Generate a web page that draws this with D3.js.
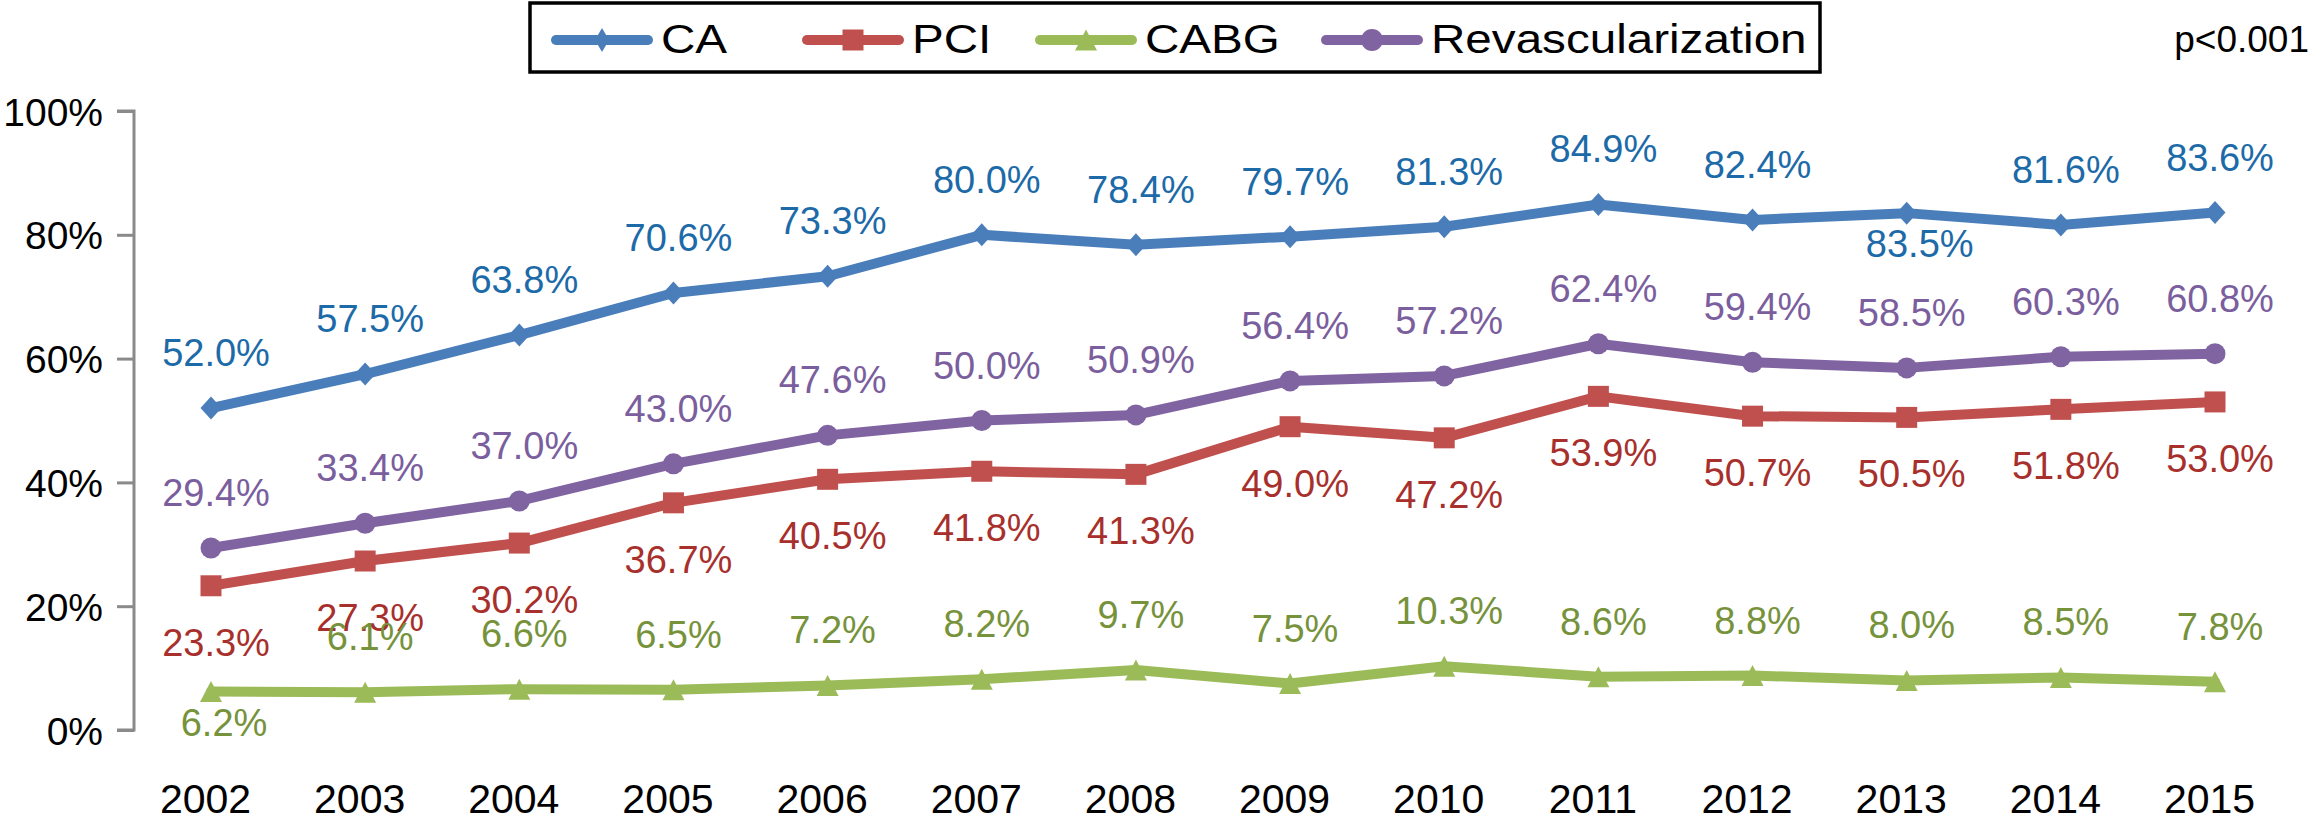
<!DOCTYPE html>
<html>
<head>
<meta charset="utf-8">
<script src="https://cdn.jsdelivr.net/npm/d3@7"></script>
<style>
  html, body { margin: 0; padding: 0; background: #fff; }
  svg { display: block; }
  text { font-family: Arial, "Liberation Sans", Helvetica, sans-serif; }
</style>
</head>
<body>
<svg id="chart" width="2315" height="822"></svg>
<script>
// ---------- data ----------
const years = [2002, 2003, 2004, 2005, 2006, 2007, 2008, 2009, 2010, 2011, 2012, 2013, 2014, 2015];
const seriesNames = ["CA", "PCI", "CABG", "Revascularization"];
const caValues     = [52.0, 57.5, 63.8, 70.6, 73.3, 80.0, 78.4, 79.7, 81.3, 84.9, 82.4, 83.5, 81.6, 83.6];
const pciValues    = [23.3, 27.3, 30.2, 36.7, 40.5, 41.8, 41.3, 49.0, 47.2, 53.9, 50.7, 50.5, 51.8, 53.0];
const cabgValues   = [6.2, 6.1, 6.6, 6.5, 7.2, 8.2, 9.7, 7.5, 10.3, 8.6, 8.8, 8.0, 8.5, 7.8];
const revascValues = [29.4, 33.4, 37.0, 43.0, 47.6, 50.0, 50.9, 56.4, 57.2, 62.4, 59.4, 58.5, 60.3, 60.8];
const yTicks = [0, 20, 40, 60, 80, 100];
const pValueText = "p<0.001";
// label placement (semantic): above / below / under
const caPlacement     = ["above","above","above","above","above","above","above","above","above","above","above","under","above","above"];
const pciPlacement    = years.map(() => "below");
const cabgPlacement   = ["under","above","above","above","above","above","above","above","above","above","above","above","above","above"];
const revascPlacement = years.map(() => "above");

// ---------- styles ----------
const styles = [
  { line: "#4a7ebb", label: "#1d6aa8", marker: "diamond" },
  { line: "#c0504d", label: "#a8302c", marker: "square" },
  { line: "#9bbb59", label: "#76923b", marker: "triangle" },
  { line: "#8064a2", label: "#7a5e9d", marker: "circle" }
];
const seriesValues = [caValues, pciValues, cabgValues, revascValues];
const placements = [caPlacement, pciPlacement, cabgPlacement, revascPlacement];

const svg = d3.select("#chart");

const x = d3.scalePoint().domain(years).range([211, 2215]);
const y = d3.scaleLinear().domain([0, 100]).range([730, 111]);

function markerPath(type, s) {
  if (type === "diamond") return `M0,${-s.h}L${s.w},0L0,${s.h}L${-s.w},0Z`;
  if (type === "square") return `M${-s.w},${-s.w}H${s.w}V${s.w}H${-s.w}Z`;
  if (type === "triangle") return `M0,${-s.h}L${s.w},${s.h}L${-s.w},${s.h}Z`;
  return null;
}
function drawMarker(g, type, cx, cy, color, legend) {
  if (type === "circle") {
    g.append("circle").attr("cx", cx).attr("cy", cy).attr("r", legend ? 11 : 10.5).attr("fill", color);
    return;
  }
  let s;
  if (type === "diamond") s = legend ? { w: 7, h: 12 } : { w: 10.5, h: 11.5 };
  else if (type === "square") s = { w: 10.5 };
  else s = { w: 11, h: 10.5 };
  g.append("path").attr("d", markerPath(type, s))
    .attr("transform", `translate(${cx},${cy})`).attr("fill", color);
}

// ---------- y axis ----------
const yAxis = d3.axisLeft(y).tickValues(yTicks).tickSize(17).tickPadding(14)
  .tickFormat(d => d + "%");
const yg = svg.append("g").attr("transform", "translate(134,0)").call(yAxis);
yg.select(".domain").attr("stroke", "#8a8a8a").attr("stroke-width", 3)
  .attr("d", `M-17,${y(100)}H0V${y(0)}H-17`);
yg.selectAll(".tick line").attr("stroke", "#8a8a8a").attr("stroke-width", 3);
yg.selectAll(".tick text").attr("font-size", 39).attr("fill", "#000")
  .attr("font-family", 'Arial, "Liberation Sans", sans-serif').attr("dy", "0.36em");

// ---------- x axis labels ----------
const xAxis = d3.axisBottom(x).tickSize(0).tickPadding(0).tickFormat(d => String(d));
const xg = svg.append("g").attr("transform", "translate(-6,0)").call(xAxis);
xg.select(".domain").remove();
xg.selectAll(".tick text").attr("font-size", 41).attr("fill", "#000")
  .attr("font-family", 'Arial, "Liberation Sans", sans-serif')
  .attr("y", 813).attr("dy", 0);

// ---------- lines & markers ----------
const lineGen = d3.line().x((d, i) => x(years[i])).y(d => y(d));
seriesValues.forEach((vals, si) => {
  const st = styles[si];
  const g = svg.append("g");
  g.append("path").datum(vals).attr("d", lineGen)
    .attr("fill", "none").attr("stroke", st.line).attr("stroke-width", 10)
    .attr("stroke-linejoin", "round").attr("stroke-linecap", "round");
  vals.forEach((v, i) => drawMarker(g, st.marker, x(years[i]), y(v), st.line, false));
});

// ---------- data labels ----------
const offsets = { above: { dx: 5, dy: -42 }, below: { dx: 5, dy: 70 }, under: { dx: 13, dy: 44 } };
seriesValues.forEach((vals, si) => {
  const st = styles[si];
  svg.append("g").selectAll("text").data(vals).join("text")
    .attr("x", (d, i) => x(years[i]) + offsets[placements[si][i]].dx)
    .attr("y", (d, i) => y(d) + offsets[placements[si][i]].dy)
    .attr("text-anchor", "middle").attr("font-size", 38).attr("fill", st.label)
    .text(d => d.toFixed(1) + "%");
});

// ---------- legend ----------
const legend = svg.append("g");
legend.append("rect").attr("x", 530).attr("y", 3).attr("width", 1290).attr("height", 69)
  .attr("fill", "#fff").attr("stroke", "#000").attr("stroke-width", 3.5);
const legendX = [551, 802, 1035, 1321];
seriesNames.forEach((name, i) => {
  const st = styles[i];
  const lx = legendX[i];
  legend.append("line").attr("x1", lx + 5).attr("x2", lx + 97).attr("y1", 40).attr("y2", 40)
    .attr("stroke", st.line).attr("stroke-width", 10).attr("stroke-linecap", "round");
  drawMarker(legend, st.marker, lx + 51, 40, st.line, true);
  legend.append("text").attr("transform", `translate(${lx + 110},53) scale(1.19,1)`)
    .attr("font-size", 40).attr("fill", "#000").text(name);
});

// ---------- p value ----------
svg.append("text").attr("x", 2309).attr("y", 52).attr("text-anchor", "end")
  .attr("font-size", 37).attr("fill", "#000").text(pValueText);
</script>
</body>
</html>
